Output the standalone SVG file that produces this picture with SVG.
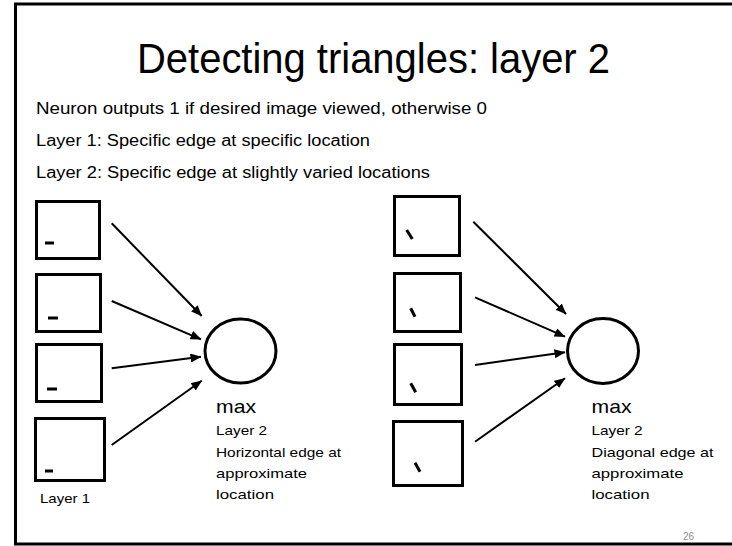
<svg xmlns="http://www.w3.org/2000/svg" width="732" height="546" viewBox="0 0 732 546">
<defs>
<style>
text{font-family:"Liberation Sans",Arial,sans-serif;fill:#000}
.box{fill:#fff;stroke:#000;stroke-width:3}
.dash{stroke:#000;stroke-width:3;fill:none}
.arr{stroke:#000;stroke-width:2;fill:none;marker-end:url(#ah)}
.neu{fill:#fff;stroke:#000;stroke-width:3}
.t13{font-size:13.5px}
.max{font-size:18.5px}
</style>
<marker id="ah" viewBox="0 0 11 9" refX="10.5" refY="4.5" markerWidth="11" markerHeight="9" markerUnits="userSpaceOnUse" orient="auto"><path d="M0,0 L11,4.5 L0,9 z" fill="#000"/></marker>
</defs>
<rect x="0" y="0" width="732" height="546" fill="#fff"/>
<rect x="15.5" y="4" width="740" height="540" fill="none" stroke="#000" stroke-width="3"/>
<g id="title"><text x="137" y="73" font-size="42" textLength="473" lengthAdjust="spacingAndGlyphs">Detecting triangles: layer 2</text></g>
<g id="bullets">
<text x="36" y="114" font-size="16" textLength="451" lengthAdjust="spacingAndGlyphs">Neuron outputs 1 if desired image viewed, otherwise 0</text>
<text x="36" y="146" font-size="16" textLength="334" lengthAdjust="spacingAndGlyphs">Layer 1: Specific edge at specific location</text>
<text x="36" y="178" font-size="16" textLength="394" lengthAdjust="spacingAndGlyphs">Layer 2: Specific edge at slightly varied locations</text>
</g>
<g id="L1a"><rect class="box" x="36.5" y="201.5" width="63" height="57"/><line class="dash" x1="45" y1="243" x2="54" y2="243"/></g>
<g id="L1b"><rect class="box" x="36.5" y="274.5" width="64" height="57"/><line class="dash" x1="48" y1="318" x2="58" y2="318"/></g>
<g id="L1c"><rect class="box" x="36.5" y="344.5" width="65" height="57"/><line class="dash" x1="47" y1="389" x2="57" y2="389"/></g>
<g id="L1d"><rect class="box" x="35.5" y="418.5" width="69" height="62"/><line class="dash" x1="45" y1="471" x2="53" y2="471"/></g>
<g id="layer1label"><text class="t13" x="40" y="503" textLength="50" lengthAdjust="spacingAndGlyphs">Layer 1</text></g>
<g id="maxH"><ellipse class="neu" cx="240.5" cy="351" rx="35.5" ry="32"/>
<text class="max" x="216" y="413" textLength="40" lengthAdjust="spacingAndGlyphs">max</text>
<text class="t13" x="216" y="435" textLength="51" lengthAdjust="spacingAndGlyphs">Layer 2</text>
<text class="t13" x="216" y="456.5" textLength="125" lengthAdjust="spacingAndGlyphs">Horizontal edge at</text>
<text class="t13" x="216" y="477.5" textLength="91" lengthAdjust="spacingAndGlyphs">approximate</text>
<text class="t13" x="216" y="498.5" textLength="58" lengthAdjust="spacingAndGlyphs">location</text>
</g>
<g id="R1a"><rect class="box" x="394.5" y="196.5" width="65" height="59"/><line class="dash" x1="406.7" y1="230" x2="412.3" y2="239"/></g>
<g id="R1b"><rect class="box" x="394.5" y="273.5" width="66" height="58"/><line class="dash" x1="410.7" y1="308.3" x2="415" y2="316.7"/></g>
<g id="R1c"><rect class="box" x="394.5" y="344.5" width="67" height="60"/><line class="dash" x1="410.7" y1="383.3" x2="415.7" y2="392.3"/></g>
<g id="R1d"><rect class="box" x="393.5" y="421.5" width="69" height="64"/><line class="dash" x1="415" y1="462.7" x2="420" y2="471.7"/></g>
<g id="maxD"><ellipse class="neu" cx="603" cy="351" rx="35.5" ry="32.5"/>
<text class="max" x="591.5" y="413" textLength="40" lengthAdjust="spacingAndGlyphs">max</text>
<text class="t13" x="591.5" y="435" textLength="51" lengthAdjust="spacingAndGlyphs">Layer 2</text>
<text class="t13" x="591.5" y="456.5" textLength="122" lengthAdjust="spacingAndGlyphs">Diagonal edge at</text>
<text class="t13" x="591.5" y="477.5" textLength="92" lengthAdjust="spacingAndGlyphs">approximate</text>
<text class="t13" x="591.5" y="498.5" textLength="58" lengthAdjust="spacingAndGlyphs">location</text>
</g>
<g id="connectors">
<line class="arr" x1="111.7" y1="223.3" x2="201.7" y2="316"/>
<line class="arr" x1="111.7" y1="301" x2="201" y2="339.3"/>
<line class="arr" x1="111.7" y1="368.3" x2="201" y2="356.7"/>
<line class="arr" x1="111.7" y1="445" x2="201.7" y2="380.7"/>
<line class="arr" x1="473.3" y1="221.7" x2="566" y2="314"/>
<line class="arr" x1="475" y1="297.3" x2="565" y2="336.7"/>
<line class="arr" x1="475" y1="365" x2="565" y2="352.3"/>
<line class="arr" x1="475" y1="441.7" x2="565" y2="378.3"/>
</g>
<g id="pagenum"><text x="683" y="540" font-size="10" style="fill:#8c8c8c">26</text></g>
</svg>
